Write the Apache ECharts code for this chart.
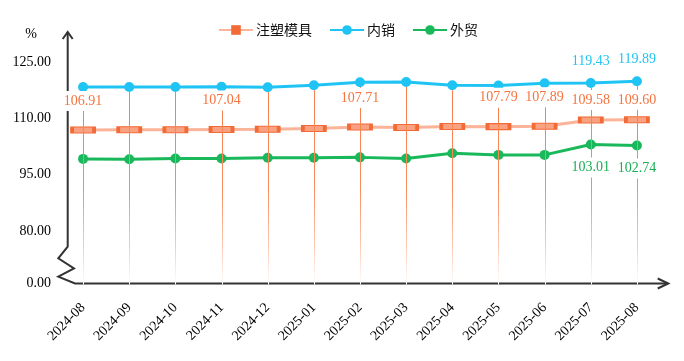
<!DOCTYPE html>
<html>
<head>
<meta charset="utf-8">
<script src="https://cdn.jsdelivr.net/npm/echarts@6/dist/echarts.min.js"></script>
<style>html,body{margin:0;padding:0;background:#fff}#c{width:684px;height:361px}</style>
</head>
<body>
<div id="c"></div>
<script>
const categories = ['2024-08','2024-09','2024-10','2024-11','2024-12','2025-01','2025-02','2025-03','2025-04','2025-05','2025-06','2025-07','2025-08'];
const moldValues = [106.91, 106.98, 106.97, 107.04, 107.10, 107.30, 107.71, 107.55, 107.85, 107.79, 107.89, 109.58, 109.60];
const domesticValues = [118.36, 118.36, 118.34, 118.40, 118.30, 118.82, 119.62, 119.70, 118.82, 118.74, 119.35, 119.43, 119.89];
const exportValues = [99.20, 99.10, 99.30, 99.30, 99.50, 99.50, 99.60, 99.30, 100.69, 100.26, 100.26, 103.01, 102.74];
const moldLabelIdx = [0, 3, 6, 9, 10, 11, 12];
const domesticLabelIdx = [11, 12];
const exportLabelIdx = [11, 12];
const yTickValues = [66, 80, 95, 110, 125];
const yTickLabels = ['0.00', '80.00', '95.00', '110.00', '125.00'];
const seriesNames = ['注塑模具', '内销', '外贸'];

const yMin = 66, yMax = 133;
const gridLeft = 60, gridRight = 24, gridTop = 32, gridBottom = 77.5;
const axisY = 361 - gridBottom;
const serif = '"Times New Roman","Liberation Serif",serif';
const cjk = '"Noto Sans CJK SC","Microsoft YaHei",sans-serif';

const cOrangeLine = '#fbb49a', cOrangeFill = '#f9a282', cOrangeBorder = '#f26a36', cOrangeText = '#f4733e';
const cBlue = '#20c4f4', cGreen = '#19b85a';

function labelData(values, idxList) {
  return values.map((v, i) => idxList.indexOf(i) >= 0 ? v : '-');
}
function labelSeries(name, values, idxList, color, offsetFn) {
  return {
    name: name, type: 'line', z: 5, silent: true,
    data: labelData(values, idxList).map((v, i) => ({
      value: v,
      label: { offset: [0, offsetFn(i)] }
    })),
    symbol: 'circle', symbolSize: 1,
    itemStyle: { color: 'rgba(0,0,0,0)' },
    lineStyle: { opacity: 0, width: 0 },
    connectNulls: false,
    label: {
      show: true, position: 'inside', color: color,
      fontFamily: serif, fontSize: 14,
      backgroundColor: '#fff', padding: [3, 1],
      formatter: p => Number(p.value).toFixed(2)
    },
    tooltip: { show: false }
  };
}

const chart = echarts.init(document.getElementById('c'));
chart.setOption({
  animation: false,
  backgroundColor: '#fff',
  grid: { left: gridLeft, right: gridRight, top: gridTop, bottom: gridBottom },
  legend: {
    data: [
      { name: seriesNames[0], itemStyle: { color: cOrangeBorder, borderWidth: 0 } },
      { name: seriesNames[1] },
      { name: seriesNames[2] }
    ],
    left: 218, top: 23, padding: 0,
    itemWidth: 34, itemHeight: 12, itemGap: 17,
    textStyle: { fontFamily: cjk, fontSize: 14, color: '#111', padding: [0, 0, 0, -2] }
  },
  xAxis: {
    type: 'category', data: categories, boundaryGap: true,
    axisLine: { show: false }, axisTick: { show: false }, splitLine: { show: false },
    axisLabel: { rotate: 45, margin: 22, fontFamily: serif, fontSize: 14, color: '#000', interval: 0 }
  },
  yAxis: {
    type: 'value', min: yMin, max: yMax,
    axisLine: { show: false }, axisTick: { show: false }, splitLine: { show: false },
    axisLabel: {
      customValues: yTickValues, margin: 9, fontFamily: serif, fontSize: 14, color: '#000',
      formatter: v => { const k = yTickValues.indexOf(v); return k >= 0 ? yTickLabels[k] : ''; }
    }
  },
  graphic: [
    {
      type: 'polyline', z: 1, silent: true,
      shape: { points: [[67.7, 32], [67.7, 246.7], [58.3, 258.3], [74, 268.3], [58.3, 276.7], [75, axisY], [668, axisY]] },
      style: { stroke: '#333', lineWidth: 2, fill: null }
    },
    {
      type: 'polyline', z: 1, silent: true,
      shape: { points: [[62.7, 39], [67.7, 32], [72.7, 39]] },
      style: { stroke: '#333', lineWidth: 2, fill: null }
    },
    {
      type: 'polyline', z: 1, silent: true,
      shape: { points: [[657.7, axisY - 5], [668.3, axisY], [657.7, axisY + 5]] },
      style: { stroke: '#333', lineWidth: 2, fill: null }
    },
    {
      type: 'text', z: 1, silent: true, x: 31, y: 34,
      style: { text: '%', fontFamily: serif, fontSize: 14, fill: '#000', align: 'center', verticalAlign: 'middle' }
    }
  ],
  series: [
    {
      name: seriesNames[0], type: 'line', z: 2, data: moldValues,
      symbol: 'rect', symbolSize: [22, 6],
      lineStyle: { color: cOrangeLine, width: 3 },
      itemStyle: { color: cOrangeFill, borderColor: cOrangeBorder, borderWidth: 2 }
    },
    {
      name: seriesNames[1], type: 'line', z: 2, data: domesticValues,
      symbol: 'circle', symbolSize: 10,
      lineStyle: { color: cBlue, width: 3 },
      itemStyle: { color: cBlue }
    },
    {
      name: seriesNames[2], type: 'line', z: 2, data: exportValues,
      symbol: 'circle', symbolSize: 10,
      lineStyle: { color: cGreen, width: 3 },
      itemStyle: { color: cGreen }
    },
    {
      type: 'custom', name: '_drop', z: 3, silent: true,
      data: domesticValues.map((v, i) => [i, v]),
      encode: { x: 0, y: 1 },
      renderItem: function (params, api) {
        const top = api.coord([api.value(0), api.value(1)]);
        const bot = api.coord([api.value(0), yMin]);
        const x = Math.round(top[0]) + 0.5;
        const y0 = top[1] + 5;
        const y1 = bot[1] + 1;
        return {
          type: 'line',
          shape: { x1: x, y1: y0, x2: x, y2: y1 },
          style: {
            lineWidth: 1,
            stroke: new echarts.graphic.LinearGradient(0, y0, 0, y1, [
              { offset: 0, color: '#f7804e' },
              { offset: 0.5, color: '#f88c5c' },
              { offset: 0.8, color: '#fcc9b4' },
              { offset: 1, color: '#ffffff' }
            ], true)
          }
        };
      }
    },
    labelSeries('_l0', moldValues, moldLabelIdx, cOrangeText, i => (i >= 11 ? -20 : -29)),
    labelSeries('_l1', domesticValues, domesticLabelIdx, cBlue, i => -22),
    labelSeries('_l2', exportValues, exportLabelIdx, '#1aae55', i => 23)
  ]
});
</script>
</body>
</html>
